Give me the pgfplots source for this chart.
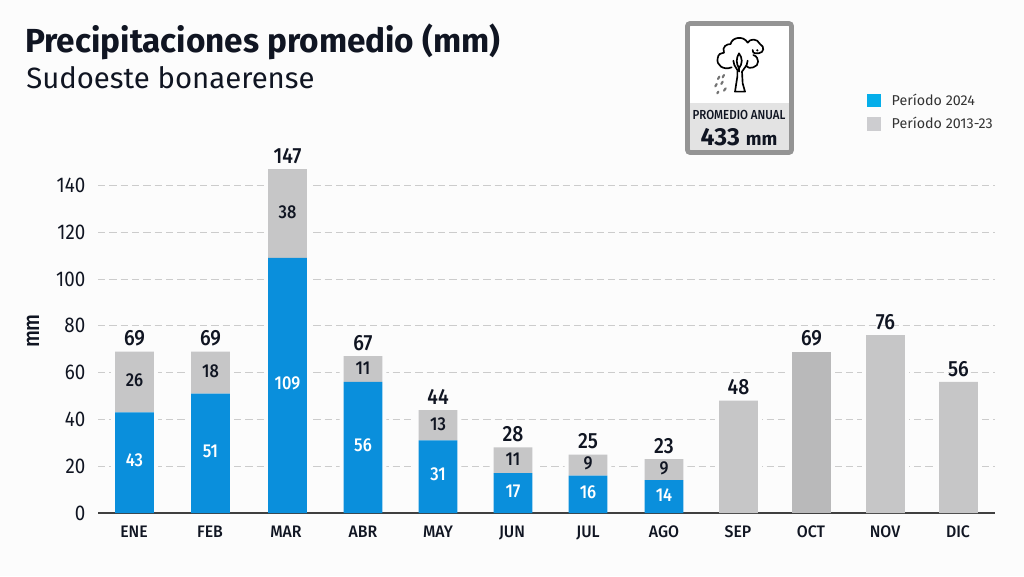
\documentclass[border=0pt]{standalone}
\usepackage{pgfplots}
\usepackage{pgfplotstable}
\usepackage{fontspec}
\pgfplotsset{compat=1.18}
\setmainfont{Fira Sans}
\newfontfamily\cond[FakeStretch=0.88]{Fira Sans}
\newfontfamily\condmed[FakeStretch=0.88]{Fira Sans Medium}
\newfontfamily\monthf[FakeStretch=0.95]{Fira Sans Medium}
\definecolor{bluebar}{HTML}{0A8FDC}
\definecolor{greybar}{HTML}{C6C6C7}
\definecolor{octbar}{HTML}{B9B9BA}
\definecolor{legblue}{HTML}{05AEEA}
\definecolor{leggrey}{HTML}{CDCDD0}
\definecolor{ink}{HTML}{101522}
\definecolor{page}{HTML}{FCFCFC}
\pgfplotstableread{
xpos blue grey oct total
134.5 43 26 0 69
210.5 51 18 0 69
287.5 109 38 0 147
363 56 11 0 67
438 31 13 0 44
513 17 11 0 28
588 16 9 0 25
664 14 9 0 23
738.5 0 48 0 48
811.5 0 0 69 69
885.5 0 76 0 76
958.5 0 56 0 56
}\datatable
\pgfplotsset{
  base/.style={
    scale only axis, width=672.75pt, height=280.8pt,
    anchor=south west, at={(73.5pt,47.25pt)},
    xmin=98, xmax=995, ymin=0, ymax=160,
    clip=false,
    /pgf/number format/assume math mode=true,
  },
}
\begin{document}
\begin{tikzpicture}
\fill[page] (0,0) rectangle (768pt,432pt);
% background axis: grid, y ticks, white halo around the bars, totals
\begin{axis}[base, hide x axis, axis y line=left, y axis line style={draw=none},
  ytick={0,20,...,140}, major tick length=0pt,
  ymajorgrids, grid style={dashed, dash pattern=on 5.5pt off 3pt, line width=0.6pt, draw=black!20},
  yticklabel style={font=\cond\fontsize{16}{16}\selectfont, text=ink, xshift=-6pt},
  ylabel={}]
\addplot[ybar, bar width=35pt, draw=none, fill=page,
  nodes near coords,
  every node near coord/.style={anchor=south, inner sep=0pt, text=ink, font=\condmed\fontsize{16.5}{17}\selectfont, yshift=4pt}]
  table[x=xpos,y=total]{\datatable};
\end{axis}
% foreground axis: bars and labels
\begin{axis}[base, hide y axis, axis x line=bottom, axis line style={-, draw=black!75, line width=0.9pt},
  ybar stacked, bar width=29pt,
  xtick={134,210,286,363,438,512,588,664,738,811,885,958},
  xticklabels={ENE,FEB,MAR,ABR,MAY,JUN,JUL,AGO,SEP,OCT,NOV,DIC},
  major tick length=0pt,
  xticklabel style={font=\monthf\fontsize{12.5}{13}\selectfont, text=ink, yshift=-6pt},
  legend style={at={(0.857,1.127)}, anchor=north west, draw=none, fill=none, inner sep=0pt,
    font=\fontsize{10.7}{11}\selectfont, text=black!80,
    row sep=3.5pt, /tikz/column 1/.style={column sep=6pt}},
  legend cell align=left,
  legend image code/.code={\fill[#1,draw=none] (0pt,-5pt) rectangle (10.5pt,5pt);},
]
\addplot[draw=none, fill=bluebar, forget plot,
  visualization depends on={\thisrow{blue} \as \vh},
  nodes near coords={\ifdim\vh pt>0.5pt \pgfmathprintnumber{\vh}\fi},
  every node near coord/.style={anchor=center, text=white, font=\condmed\fontsize{14}{14}\selectfont, yshift=1.5pt}]
  table[x=xpos,y=blue]{\datatable};
\addplot[draw=none, fill=greybar, forget plot,
  visualization depends on={\thisrow{grey} \as \vh},
  visualization depends on={\thisrow{blue} \as \vb},
  nodes near coords={\ifdim\vb pt>0.5pt \pgfmathprintnumber{\vh}\fi},
  every node near coord/.style={anchor=center, text=ink, font=\condmed\fontsize{14}{14}\selectfont, yshift=1pt}]
  table[x=xpos,y=grey]{\datatable};
\addplot[draw=none, fill=octbar, forget plot] table[x=xpos,y=oct]{\datatable};
\addlegendimage{fill=legblue}
\addlegendentry{Período 2024}
\addlegendimage{fill=leggrey}
\addlegendentry{Período 2013-23}
\end{axis}
% texts and badge in pixel coordinates of the page
\begin{scope}[x=0.75pt,y=-0.75pt,yshift=432pt]
\node[anchor=base west, inner sep=0pt, text=ink, font=\bfseries\fontsize{25}{25}\selectfont] at (25,53) {Precipitaciones promedio (mm)};
\node[anchor=base west, inner sep=0pt, text=ink, font=\fontsize{22}{22}\selectfont] at (26,89) {Sudoeste bonaerense};
\node[rotate=90, inner sep=0pt, text=ink, font=\condmed\fontsize{17}{17}\selectfont] at (33,331) {mm};
% badge
\fill[white] (687,23) rectangle (792,153);
\fill[black!11] (687,103) rectangle (792,153);
\draw[draw=black!42, line width=3.6pt, rounded corners=2pt] (687.5,23.5) rectangle (791.5,152.5);
\node[inner sep=0pt, text=ink, font=\condmed\fontsize{9.8}{10}\selectfont] at (739,114.5) {PROMEDIO ANUAL};
\node[inner sep=0pt, text=ink, font=\bfseries\fontsize{18.5}{18}\selectfont] at (739,137) {433 \fontsize{14}{14}\selectfont mm};
% tree icon
\begin{scope}[shift={(700,30)}, x=0.25pt, y=-0.25pt, line width=1.25pt, draw=black, line cap=round, line join=round]
\draw (95,112) .. controls (70,122) and (48,105) .. (53,85) .. controls (54,72) and (64,68) .. (72,68)
      .. controls (65,50) and (80,42) .. (92,42) .. controls (95,22) and (130,15) .. (143,38)
      .. controls (150,25) and (172,25) .. (180,42) .. controls (195,50) and (192,68) .. (176,70)
      .. controls (160,72) and (155,65) .. (158,60);
\draw (160,75) .. controls (180,82) and (178,108) .. (160,112) .. controls (152,116) and (145,114) .. (138,108);
\draw (100,92) -- (103,105) -- (112,120) -- (112,140) -- (105,185) -- (135,185) -- (128,160) -- (126,125) -- (140,105) -- (143,92);
\draw (117,70) .. controls (108,85) and (108,100) .. (117,115) .. controls (128,100) and (128,85) .. (117,70) (117,115) -- (117,125);
\draw[line width=1.6pt, draw=black!55] (58,140)--(54,147) (72,135)--(68,142) (50,162)--(46,169) (68,155)--(64,162) (55,185)--(52,190) (77,175)--(72,182);
\fill (172,61) circle (0.9pt);
\end{scope}
\end{scope}
\end{tikzpicture}
\end{document}
